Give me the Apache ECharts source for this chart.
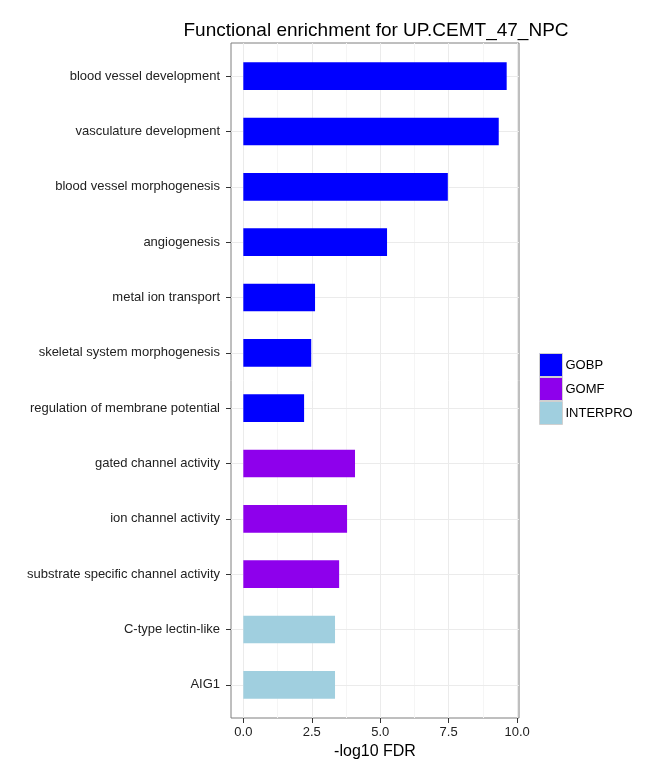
<!DOCTYPE html>
<html>
<head>
<meta charset="utf-8">
<script src="https://cdn.jsdelivr.net/npm/echarts@6/dist/echarts.min.js"></script>
<style>
	html, body {margin: 0; padding: 0; background: #fff;}
	#chart {width: 672px; height: 768px;}
</style>
</head>
<body>
<div id="chart"></div>
<script>
// categories, top to bottom
var terms = ['blood vessel development', 'vasculature development', 'blood vessel morphogenesis',
	'angiogenesis', 'metal ion transport', 'skeletal system morphogenesis',
	'regulation of membrane potential', 'gated channel activity', 'ion channel activity',
	'substrate specific channel activity', 'C-type lectin-like', 'AIG1'];
var gobp = [9.62, 9.33, 7.47, 5.25, 2.62, 2.48, 2.22];
var gomf = [4.08, 3.79, 3.50];
var interpro = [3.35, 3.35];
var xTicks = [0, 2.5, 5, 7.5, 10];
var xMinor = [1.25, 3.75, 6.25, 8.75];

var font = 'Liberation Sans, Arial, sans-serif';

// [value, row] pairs, rows continue across groups
function rows(vals, start){
	return vals.map(function(v, i){ return [v, start + i]; });
}

function renderItem(params, api){
	var v = api.value(0), y = api.value(1);
	var p0 = api.coord([0, y]);
	var p1 = api.coord([v, y]);
	var h = api.size([0, 0.5])[1];
	return {
		type: 'rect',
		shape: {x: p0[0], y: p0[1] - h / 2, width: p1[0] - p0[0], height: h},
		style: {fill: api.visual('color')}
	};
}

var yIdx = terms.map(function(t, i){ return i; });

// grid lines drawn as mark lines so they sit on the ticks
var gridLines = [];
xMinor.forEach(function(v){ gridLines.push({xAxis: v, lineStyle: {color: '#f5f5f5'}}); });
xTicks.forEach(function(v){ gridLines.push({xAxis: v, lineStyle: {color: '#ebebeb'}}); });
yIdx.forEach(function(v){ gridLines.push({yAxis: v, lineStyle: {color: '#ebebeb'}}); });

var myChart = echarts.init(document.getElementById('chart'));
var option = {
	animation: false,
	textStyle: {fontFamily: font},
	title: {
		text: 'Functional enrichment for UP.CEMT_47_NPC',
		left: 371,
		top: 16,
		textAlign: 'center',
		textStyle: {fontSize: 19, fontWeight: 'normal', color: '#000', fontFamily: font}
	},
	legend: {
		orient: 'vertical',
		left: 539,
		top: 353,
		itemWidth: 23,
		itemHeight: 23,
		itemGap: 0,
		icon: 'rect',
		padding: 0,
		itemStyle: {borderColor: '#d0d0d0', borderWidth: 1},
		textStyle: {fontSize: 13, color: '#000', fontFamily: font, padding: [0, 0, 0, -2]},
		data: ['GOBP', 'GOMF', 'INTERPRO']
	},
	grid: {
		left: 231,
		right: 153,
		top: 43,
		bottom: 50,
		show: true,
		borderColor: '#7f7f7f',
		borderWidth: 1,
		backgroundColor: '#fff'
	},
	xAxis: {
		type: 'value',
		min: -0.45,
		max: 10.07,
		name: '-log10 FDR',
		nameLocation: 'middle',
		nameGap: 21,
		nameTextStyle: {fontSize: 16, color: '#000', fontFamily: font},
		axisLine: {show: false, onZero: false},
		axisTick: {show: true, length: 5, customValues: xTicks, lineStyle: {color: '#333'}},
		axisLabel: {
			customValues: xTicks,
			margin: 8,
			fontSize: 13,
			color: '#222',
			formatter: function(v){ return v.toFixed(1); }
		},
		splitLine: {show: false}
	},
	yAxis: {
		type: 'value',
		inverse: true,
		min: -0.6,
		max: 11.6,
		axisLine: {show: false, onZero: false},
		axisTick: {show: true, length: 5, customValues: yIdx, lineStyle: {color: '#333'}},
		axisLabel: {
			customValues: yIdx,
			margin: 11,
			fontSize: 13,
			color: '#222',
			formatter: function(v){ return terms[Math.round(v)]; }
		},
		splitLine: {show: false}
	},
	series: [{
		type: 'line',
		data: [],
		z: 1,
		silent: true,
		markLine: {
			silent: true,
			z: 1,
			symbol: ['none', 'none'],
			label: {show: false},
			animation: false,
			lineStyle: {type: 'solid', width: 1},
			data: gridLines
		}
	}, {
		name: 'GOBP',
		type: 'custom',
		renderItem: renderItem,
		color: '#0000ff',
		z: 3,
		encode: {x: 0, y: 1},
		data: rows(gobp, 0)
	}, {
		name: 'GOMF',
		type: 'custom',
		renderItem: renderItem,
		color: '#8e00ec',
		z: 3,
		encode: {x: 0, y: 1},
		data: rows(gomf, gobp.length)
	}, {
		name: 'INTERPRO',
		type: 'custom',
		renderItem: renderItem,
		color: '#a0cfdf',
		z: 3,
		encode: {x: 0, y: 1},
		data: rows(interpro, gobp.length + gomf.length)
	}]
};

myChart.setOption(option);
window.addEventListener('resize', function(){
	myChart.resize();
});
</script>
</body>
</html>
